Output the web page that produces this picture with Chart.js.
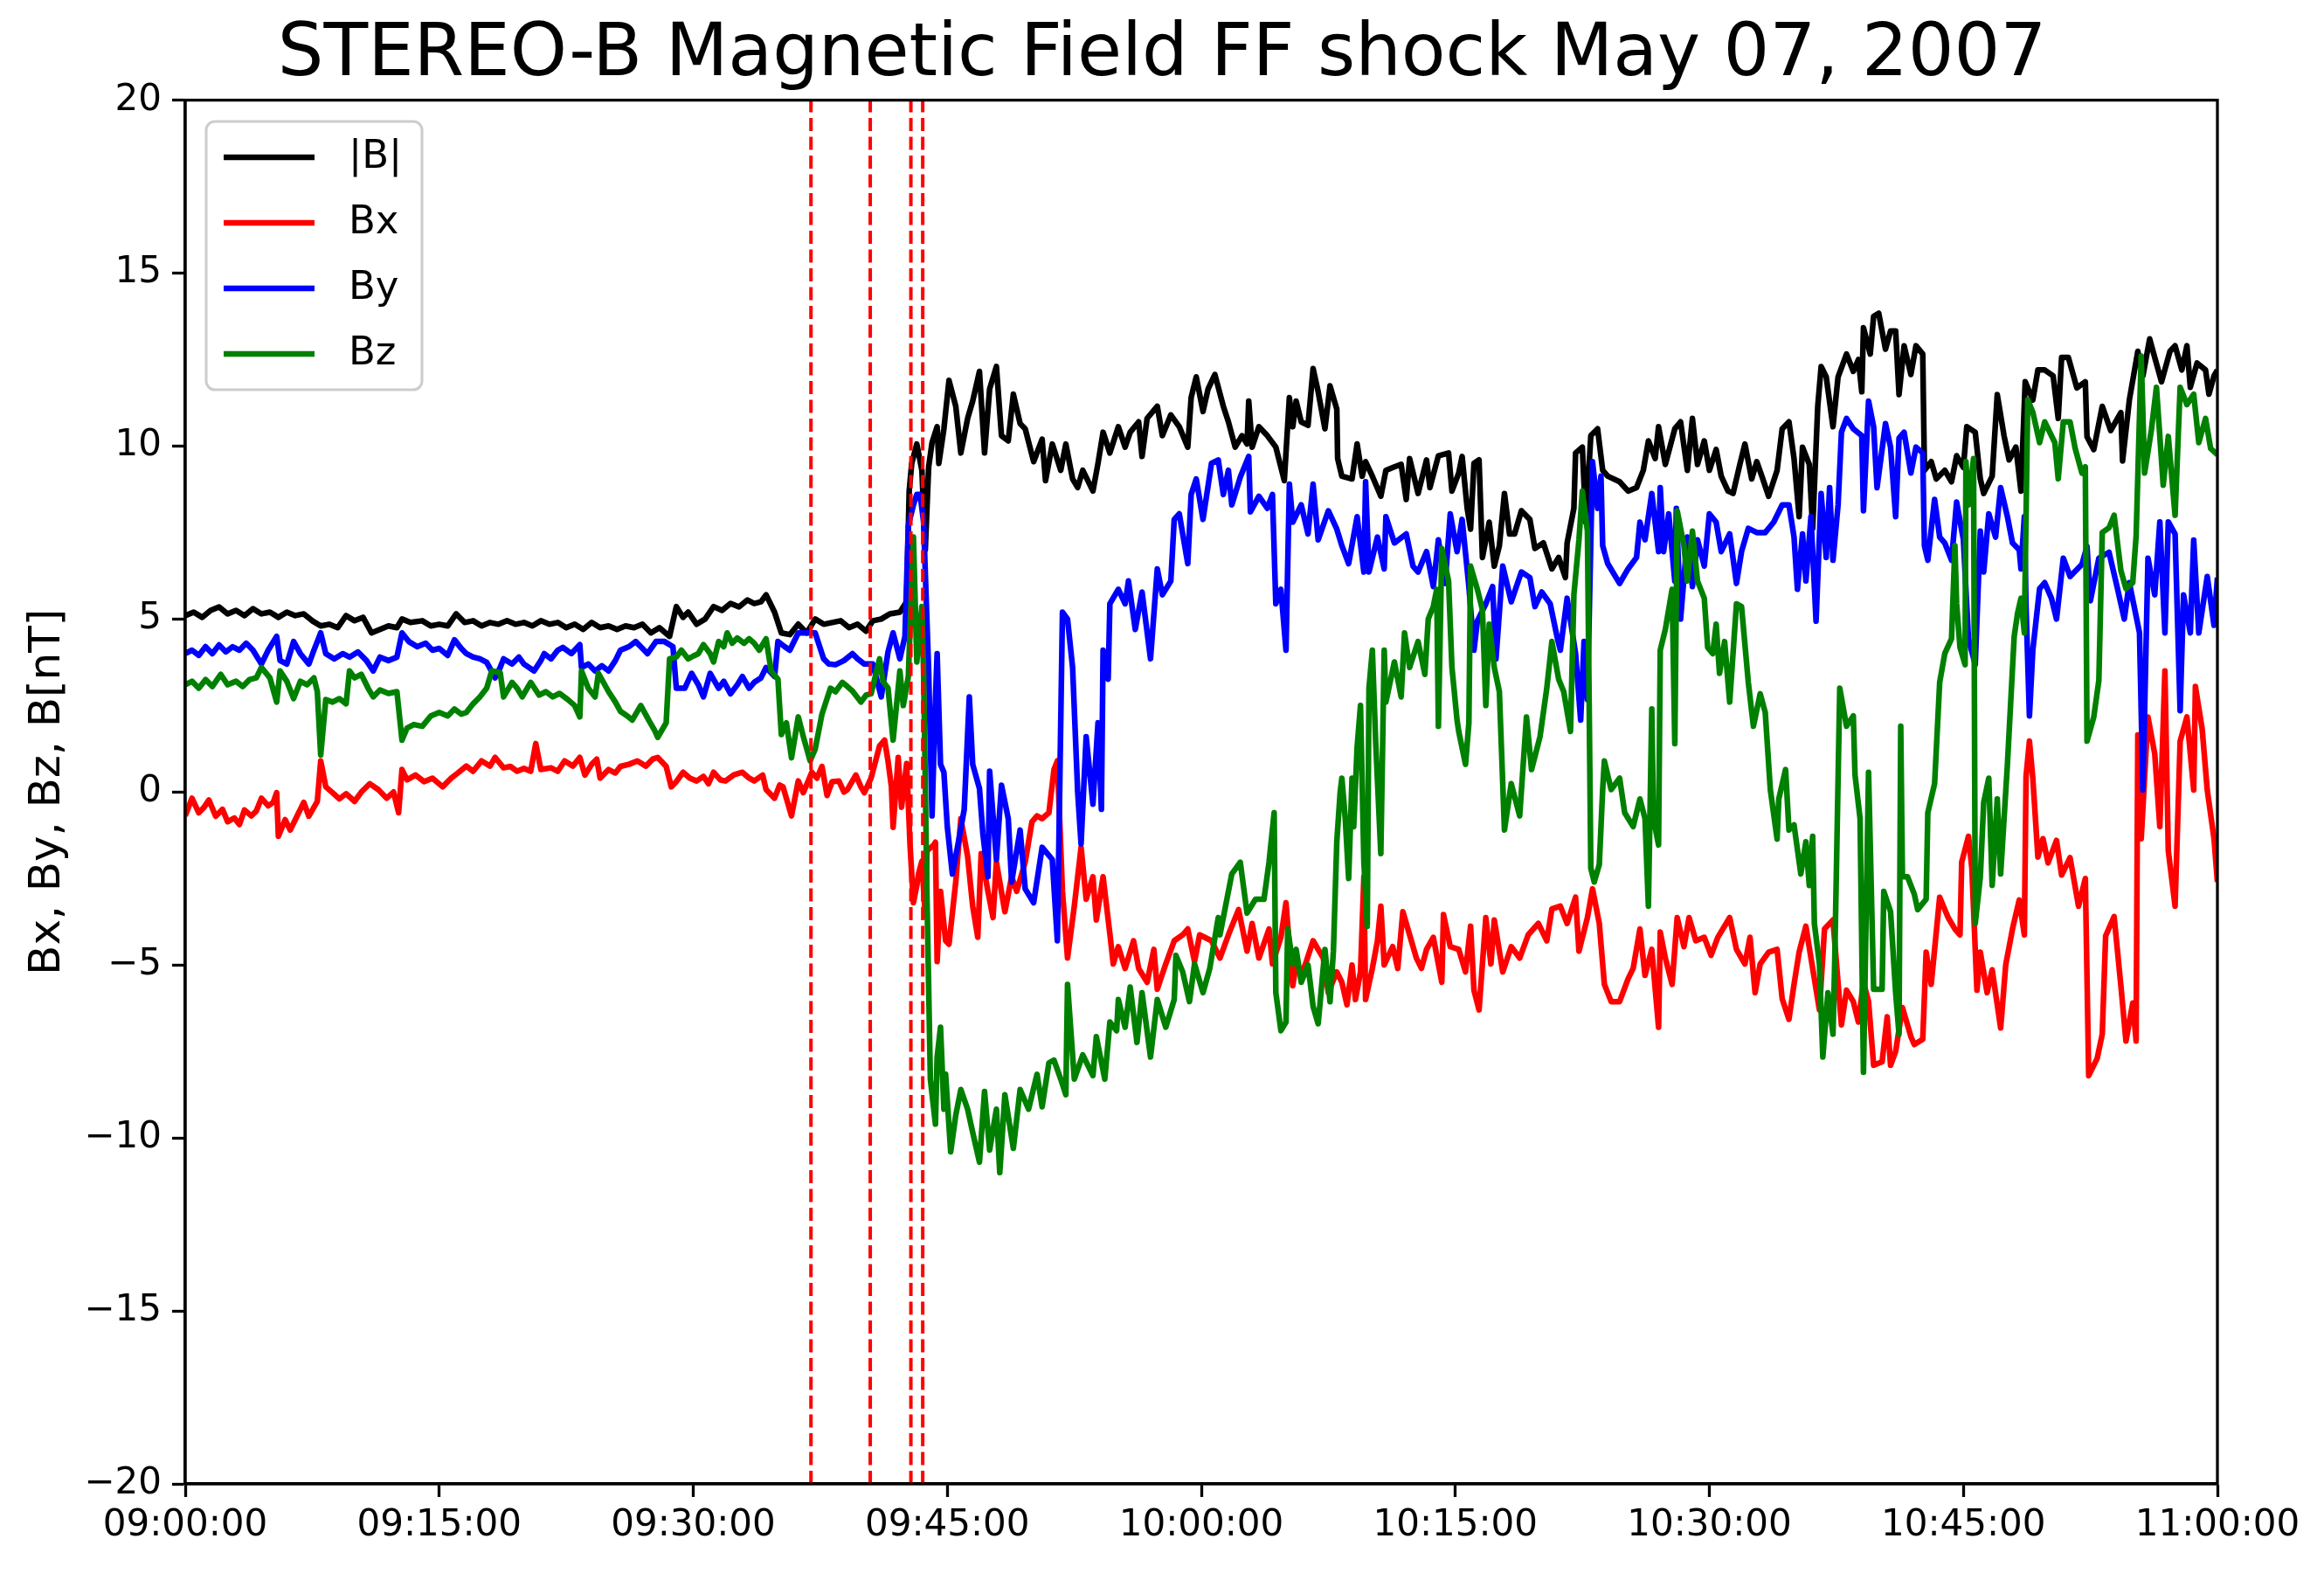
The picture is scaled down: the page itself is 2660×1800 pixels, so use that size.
<!DOCTYPE html>
<html>
<head>
<meta charset="utf-8">
<script src="https://cdn.jsdelivr.net/npm/chart.js@4.4.1/dist/chart.umd.min.js"></script>
<style>
  html, body { margin: 0; padding: 0; background: #ffffff; }
  canvas { display: block; }
</style>
</head>
<body>
<canvas id="magChart" width="2660" height="1800"></canvas>
<script>
// time axis is minutes after 09:00:00
const bTime = [0,0.5,1,1.5,2,2.5,3,3.5,4,4.5,5,5.5,6,6.5,7,7.5,8,8.5,9,9.5,10,10.5,11,11.5,12,12.5,12.8,13.3,14,14.5,15,15.5,16,16.5,17,17.5,18,18.5,19,19.5,20,20.5,21,21.5,22,22.5,23,23.5,24,24.5,25,25.5,26,26.5,27,27.5,28,28.6,29,29.4,29.7,30.2,30.7,31.2,31.7,32.2,32.7,33.2,33.6,34,34.3,34.8,35.2,35.7,36.2,36.7,37.2,37.7,38.2,38.7,39.2,39.7,40.2,40.6,41.1,41.6,42.2,42.6,42.75,42.9,43.2,43.5,43.7,43.9,44.1,44.4,44.5,44.8,45.1,45.5,45.8,46.2,46.5,46.9,47.2,47.5,47.9,48.2,48.6,48.9,49.3,49.6,50.1,50.6,50.8,51.2,51.7,52,52.4,52.7,53,53.6,53.9,54.2,54.6,55.1,55.5,55.8,56.3,56.5,56.8,57.4,57.7,58.2,58.7,59.2,59.4,59.7,60.1,60.4,60.8,61.3,61.6,62,62.4,62.7,62.8,63,63.4,63.9,64.4,64.9,65.2,65.4,65.6,65.9,66.3,66.6,66.9,67.3,67.6,68,68.05,68.3,68.9,69.2,69.5,69.7,70.1,70.6,70.9,71.4,71.8,72.1,72.3,72.8,73.3,73.5,74,74.6,74.8,75.2,75.4,75.7,75.9,76.1,76.4,76.6,77,77.3,77.6,77.9,78.2,78.5,78.9,79.4,79.7,80.2,80.7,81.1,81.5,81.6,82,82.1,82.5,82.7,83,83.4,83.7,84,84.7,85.2,85.7,86.1,86.4,86.8,87,87.4,87.96,88.3,88.7,89,89.3,89.7,90,90.4,90.7,91.1,91.4,91.8,92.1,92.5,92.8,93.1,93.5,94,94.3,94.7,95,95.3,95.5,95.9,96.1,96.4,96.6,96.9,97.3,97.6,98.1,98.5,98.8,99,99.1,99.5,99.7,100,100.4,100.7,101,101.2,101.5,101.9,102.2,102.6,102.7,103.1,103.4,103.9,104.3,104.6,105,105.2,105.7,106,106.2,106.7,107,107.4,107.7,108.1,108.4,108.65,109.1,109.4,109.8,110.3,110.6,110.8,111.2,111.7,112.2,112.3,112.7,113.2,113.7,114.3,114.4,114.8,115.3,115.6,116,116.3,116.7,117.2,117.5,117.9,118.2,118.4,118.8,119.3,119.5,119.8,120];
const bMag = [5.1,5.2,5.05,5.25,5.35,5.15,5.25,5.1,5.3,5.15,5.2,5.05,5.2,5.1,5.15,4.95,4.8,4.85,4.75,5.1,4.95,5.05,4.6,4.7,4.8,4.75,5,4.9,4.95,4.8,4.85,4.8,5.15,4.9,4.95,4.8,4.9,4.85,4.95,4.85,4.9,4.8,4.95,4.85,4.9,4.75,4.85,4.7,4.9,4.75,4.8,4.7,4.8,4.75,4.85,4.6,4.75,4.5,5.36,5.05,5.2,4.85,5,5.36,5.25,5.45,5.35,5.55,5.45,5.5,5.7,5.2,4.6,4.55,4.85,4.6,5,4.85,4.9,4.95,4.75,4.85,4.65,4.95,5,5.15,5.2,5.5,8.7,9.5,10.06,9.3,7,9.4,10.1,10.56,9.5,10.5,11.9,11.15,9.8,10.8,11.3,12.16,9.8,11.65,12.3,10.3,10.15,11.5,10.65,10.5,9.55,10.2,9,10.06,9.3,10.06,9.05,8.8,9.3,8.7,9.5,10.4,9.8,10.56,9.97,10.4,10.7,9.7,10.8,11.15,10.3,10.9,10.56,9.97,11.4,12,11,11.65,12.07,11.15,10.7,9.97,10.3,10.06,11.3,9.97,10.56,10.3,9.97,9,11.4,10.56,11.3,10.7,10.6,12.24,11.57,10.5,11.74,11.07,9.64,9.13,9.05,10.06,9.13,9.55,9.13,8.55,9.3,9.4,9.47,8.46,9.64,8.63,9.6,8.8,9.72,9.8,8.7,9.22,9.7,8.2,7.6,9.5,9.6,6.78,7.8,6.53,7.12,8.63,7.46,7.46,8.13,7.88,7.04,7.2,6.45,6.78,6.2,7.2,8.2,9.8,9.97,7.8,10.3,10.5,9.3,9.13,8.97,8.7,8.8,9.3,10.15,9.64,10.56,9.47,10.5,10.7,9.3,10.8,9.47,10.15,9.3,9.9,9.13,8.7,8.63,9.47,10.06,9.05,9.55,9.13,8.55,9.3,10.5,10.7,9.64,7.96,9.97,9.47,7.62,11.15,12.3,12,10.56,12,12.66,12.16,12.5,11.57,13.42,12.66,13.75,13.84,12.8,13.33,13.33,11.49,12.9,12.07,12.9,12.66,9.3,9.55,9.05,9.3,8.97,9.72,9.38,10.56,10.4,9.05,8.63,9.13,11.49,10.3,9.6,9.97,8.7,11.86,11.33,12.2,12.2,12.03,10.8,12.56,12.56,11.68,11.86,10.27,9.9,11.15,10.45,10.97,9.57,11.33,12.74,12.03,13.1,12.56,11.86,12.74,12.9,12.2,12.9,11.7,12.4,12.2,11.5,12.03,12.2];

const bxTime = [0,0.4,0.8,1.1,1.4,1.8,2.2,2.5,2.9,3.2,3.5,3.9,4.2,4.5,4.9,5.2,5.4,5.5,5.9,6.2,6.6,7,7.3,7.8,8,8.3,8.7,9.1,9.5,10,10.4,10.9,11.4,11.9,12.3,12.6,12.8,13.1,13.6,14.1,14.6,15.2,15.7,16.1,16.6,17,17.5,18,18.3,18.8,19.2,19.6,20,20.4,20.7,21,21.6,22,22.4,22.9,23.3,23.6,24,24.3,24.5,25,25.4,25.7,26.2,26.7,27.2,27.6,27.9,28.4,28.7,29,29.4,29.8,30.2,30.6,30.9,31.2,31.6,31.9,32.4,32.9,33.3,33.6,34.1,34.3,34.8,35.1,35.3,35.8,36.2,36.5,37,37.3,37.6,37.9,38.2,38.6,38.9,39.1,39.6,39.9,40.1,40.5,41,41.3,41.5,41.7,41.8,42.1,42.3,42.6,42.8,43,43.2,43.3,43.5,43.7,43.8,44.2,44.3,44.4,44.6,44.9,45.1,45.5,45.8,46.2,46.5,46.8,47,47.4,47.7,47.9,48.4,48.8,49.1,49.6,50,50.3,50.6,51,51.3,51.5,51.8,52.1,52.5,52.9,53.2,53.6,53.8,54.2,54.6,54.8,55.1,55.5,56,56.3,56.8,57.2,57.4,57.9,58.4,58.9,59.2,59.6,59.9,60.6,61.1,61.6,62.2,62.7,63,63.4,64,64.2,64.7,65,65.2,65.4,65.6,65.9,66.2,66.6,67.2,67.5,68,68.3,68.6,68.9,69.1,69.4,69.6,69.7,70.1,70.4,70.6,70.8,71.3,71.6,71.9,72.3,72.7,73,73.3,73.7,74.2,74.3,74.7,75.2,75.6,75.9,76.1,76.4,76.8,77.1,77.3,77.8,78.3,78.8,79.3,79.9,80.4,80.7,81.2,81.6,82.1,82.3,82.8,83.1,83.5,83.8,84.2,84.7,85.2,85.5,85.9,86.2,86.6,87,87.1,87.4,87.8,88.1,88.5,88.8,89.2,89.7,90.1,90.5,91.2,91.6,92.1,92.4,92.7,93,93.5,94,94.3,94.7,95,95.3,95.7,96,96.5,96.8,97.3,97.8,98.1,98.5,98.8,99.1,99.4,99.7,100.2,100.5,100.7,101,101.4,101.9,102.1,102.6,102.8,103.1,103.6,104.1,104.5,104.8,104.9,105.3,105.5,105.8,106,106.4,106.7,107.2,107.5,107.9,108.3,108.6,108.7,108.9,109.1,109.4,109.7,110,110.5,110.8,111.3,111.8,112.2,112.4,112.9,113.2,113.4,113.9,114.3,114.6,115,115.2,115.3,115.5,115.9,116.3,116.6,116.9,117.1,117.5,117.8,118.2,118.6,118.7,119.1,119.4,119.8,120];
const bxVal = [-0.69,-0.18,-0.6,-0.45,-0.23,-0.7,-0.5,-0.86,-0.75,-0.94,-0.52,-0.69,-0.55,-0.18,-0.4,-0.3,-0.02,-1.28,-0.8,-1.1,-0.7,-0.3,-0.7,-0.27,0.9,0.15,-0.02,-0.2,-0.05,-0.27,0,0.24,0.07,-0.18,0,-0.6,0.65,0.35,0.49,0.3,0.4,0.15,0.4,0.55,0.75,0.6,0.9,0.75,1,0.7,0.74,0.6,0.68,0.6,1.4,0.65,0.7,0.6,0.9,0.75,1,0.49,0.8,0.95,0.4,0.65,0.55,0.74,0.8,0.9,0.75,0.95,1,0.74,0.15,0.3,0.57,0.4,0.32,0.45,0.24,0.57,0.35,0.32,0.5,0.57,0.4,0.32,0.49,0.07,-0.18,0.2,0.15,-0.69,0.32,-0.02,0.57,0.4,0.74,-0.1,0.3,0.32,0,0.07,0.49,0.15,-0.02,0.4,1.33,1.5,0.9,0.15,-1.02,1,-0.44,0.82,-1.53,-3.2,-2.7,-2.37,-2,-3.6,-1.7,-1.53,-1.45,-4.9,-2.87,-4.3,-4.4,-2.6,-0.77,-1.86,-3.3,-4.2,-1.78,-2.87,-3.63,-2.03,-3.46,-2.45,-2.87,-2.03,-0.86,-0.69,-0.77,-0.6,0.65,0.9,-2.87,-4.8,-3.3,-1.6,-3.1,-2.45,-3.7,-2.45,-4.1,-4.97,-4.47,-5.1,-4.3,-5.1,-5.5,-4.55,-5.7,-4.97,-4.3,-4.13,-3.96,-4.9,-4.13,-4.3,-4.8,-4.13,-3.4,-4.6,-3.8,-4.8,-3.96,-4.97,-4.2,-3.2,-4.47,-5.6,-4.97,-5.3,-4.9,-4.3,-4.8,-5.8,-5.2,-5.5,-6.15,-5,-6,-5.2,-2.45,-6,-5.1,-4.3,-3.3,-5,-4.47,-5.1,-3.46,-4.13,-4.8,-5.1,-4.55,-4.2,-5.5,-3.54,-4.47,-4.55,-5.2,-3.88,-5.73,-6.3,-3.63,-4.97,-3.7,-5.2,-4.47,-4.8,-4.13,-3.8,-4.3,-3.38,-3.3,-3.8,-3.04,-4.6,-3.63,-2.8,-3.8,-5.56,-6.06,-6.06,-5.4,-5.1,-3.96,-5.3,-4.55,-6.8,-4.05,-4.8,-5.56,-3.63,-4.47,-3.63,-4.3,-4.2,-4.72,-4.2,-3.63,-4.55,-4.97,-4.2,-5.8,-4.97,-4.63,-4.55,-5.98,-6.57,-5.56,-4.63,-3.88,-4.8,-6.3,-3.96,-3.7,-6.73,-5.73,-6.06,-6.65,-5.5,-6.06,-7.9,-7.8,-6.5,-7.9,-7.5,-6.23,-7.07,-7.3,-7.15,-4.63,-5.56,-3.04,-3.63,-3.96,-4.13,-2.03,-1.28,-2.2,-5.73,-4.63,-5.8,-5.14,-6.82,-5,-3.96,-3.12,-4.13,0.44,1.47,0.4,-1.88,-1.35,-2.05,-1.4,-2.4,-1.9,-3.3,-2.5,-8.2,-7.7,-7,-4.16,-3.6,-5.6,-7.2,-6.1,-7.2,1.65,-1.35,2.17,1.1,-1,3.5,-1.7,-3.3,1.47,2.17,0.06,3.05,1.82,0.06,-1.35,-2.6];

const byTime = [0,0.4,0.8,1.2,1.6,2,2.4,2.8,3.2,3.6,4,4.5,4.9,5.4,5.6,6,6.4,6.8,7.3,7.6,8,8.3,8.8,9.3,9.7,10.2,10.7,11.1,11.5,12,12.5,12.8,13.2,13.7,14.2,14.6,15,15.5,15.9,16.3,16.6,17,17.4,17.8,18.3,18.6,18.8,19.3,19.7,20,20.6,21,21.2,21.6,22,22.3,22.8,23.3,23.4,23.8,24.2,24.6,25,25.4,25.7,26.2,26.6,27,27.3,27.8,28.3,28.8,29,29.5,29.9,30.3,30.6,31,31.5,31.8,32.2,32.6,32.9,33.3,33.6,34,34.3,34.8,35,35.4,35.7,36.2,36.7,37.2,37.7,38,38.4,38.9,39.4,39.7,40.1,40.6,41.1,41.5,41.8,42.2,42.5,42.7,43,43.2,43.4,43.6,43.9,44.1,44.3,44.4,44.6,44.8,45,45.3,45.6,46,46.3,46.5,46.9,47.1,47.4,47.5,47.9,48.2,48.6,48.8,49.3,49.6,50.1,50.6,51.2,51.5,51.8,52.1,52.4,52.7,52.9,53.2,53.6,53.9,54.1,54.2,54.5,54.6,55.1,55.5,55.7,56.1,56.5,57,57.4,57.7,58.2,58.4,58.7,59.2,59.4,59.7,60.1,60.6,61,61.3,61.6,61.8,62.3,62.8,62.9,63.4,63.9,64.2,64.4,64.7,65,65.2,65.4,65.9,66.3,66.6,66.9,67.5,68,68.3,68.7,69.2,69.6,69.7,69.9,70.4,70.8,70.9,71.4,72.1,72.5,72.8,73.3,73.7,74,74.4,74.7,75.1,75.4,75.8,76.1,76.3,76.8,77.2,77.4,77.8,78.3,78.9,79.4,79.7,80.1,80.6,81,81.2,81.6,82.1,82.4,82.6,82.8,83.1,83.4,83.6,83.7,84,84.7,85.2,85.7,85.9,86.2,86.6,87,87.1,87.3,87.6,87.96,88.05,88.3,88.7,89,89.3,89.7,90,90.4,90.7,91.2,91.6,91.9,92.3,92.8,93.3,93.8,94.3,94.7,95,95.2,95.5,95.7,96,96.3,96.6,96.9,97.1,97.3,97.6,97.8,98.1,98.5,99,99.1,99.4,99.7,99.9,100.4,100.7,101,101.2,101.5,101.9,102.2,102.6,102.7,102.9,103.3,103.6,103.9,104.3,104.6,105,105.3,105.7,106,106.2,106.5,106.9,107.2,107.6,107.9,108.3,108.4,108.6,108.7,108.9,109.1,109.5,109.8,110.2,110.5,110.9,111.3,112,112.3,112.5,113,113.6,114.1,114.5,114.8,115.4,115.6,115.9,116.3,116.6,116.9,117.1,117.5,117.8,118,118.4,118.6,118.9,119.4,119.8,120];
const byVal = [4,4.1,3.95,4.2,4,4.25,4.05,4.2,4.1,4.3,4.1,3.7,4.1,4.5,3.8,3.7,4.35,4,3.7,4.1,4.6,4,3.85,4,3.9,4.05,3.8,3.5,3.9,3.8,3.9,4.6,4.35,4.2,4.3,4.1,4.15,3.95,4.4,4.15,4,3.9,3.85,3.75,3.3,3.6,3.85,3.7,3.9,3.7,3.5,3.8,4,3.85,4.1,4.18,4,4.26,3.6,3.7,3.5,3.65,3.5,3.8,4.1,4.2,4.35,4.15,4,4.35,4.35,4.2,3,3,3.43,3.1,2.75,3.43,3,3.2,2.84,3.1,3.34,3,3.17,3.3,3.6,3.34,4.35,4.2,4.1,4.6,4.6,4.6,3.85,3.7,3.68,3.8,4,3.85,3.7,3.7,2.75,4.05,4.6,3.85,4.5,7.7,8.3,8.6,8.6,7.8,3.5,-0.69,2.67,4,0.8,0.57,-1,-2.37,-1.6,-0.5,2.75,0.8,0.1,-1.2,-2.45,0.6,-1.95,0.2,-0.77,-2.6,-1.1,-2.8,-3.2,-1.6,-1.95,-4.3,5.2,5,3.6,0,-1.5,1.6,-0.35,2,-0.5,4.1,3.26,5.44,5.86,5.44,6.1,4.7,5.78,3.85,6.45,5.7,6.1,7.88,8.04,6.6,8.6,9.05,7.88,9.5,9.6,8.6,9.3,8.3,9.1,9.7,8.1,8.55,8.2,8.6,5.44,5.86,4.1,8.9,7.8,8.3,7.46,8.9,7.29,8.13,7.6,7.12,6.6,7.96,6.36,8.97,6.36,7.37,6.45,7.96,7.2,7.46,6.53,6.36,6.95,5.94,7.29,6.03,8.04,6.95,7.88,5.94,4.1,4.94,5.44,5.94,3.85,6.53,5.5,6.36,6.2,5.36,5.78,5.44,4.5,4.1,5.6,4,2.08,4.35,2.67,9.55,8.2,9.13,7.12,6.6,6.03,6.45,6.78,7.8,7.29,8.63,6.95,8.8,6.95,8.04,6.1,8.2,5,7.37,5.94,7.29,6.53,8.04,7.8,6.95,7.46,6.03,6.95,7.62,7.5,7.5,7.8,8.3,8.3,7.37,5.86,7.46,6.1,7.96,4.94,8.63,6.78,8.8,6.7,8.3,10.4,10.8,10.5,10.3,8.13,11.3,10.56,8.8,10.65,9.97,7.96,10.23,10.4,9.22,9.97,9.8,7.12,6.7,8.46,7.37,7.2,6.7,8.38,7.3,4.43,3.68,7.54,6.36,8.04,7.37,8.8,7.96,7.2,7,6.45,7.96,5.35,2.2,4.1,5.88,6.05,5.6,5,6.76,6.23,6.58,7.1,5.53,6.76,6.93,5.88,5,6.05,4.6,0.06,6.76,5.7,7.81,4.6,7.81,7.46,2.35,5.7,4.6,7.28,4.6,6.23,4.82,6.2];

const bzTime = [0,0.4,0.8,1.2,1.6,2.1,2.5,3,3.4,3.8,4.2,4.5,5,5.4,5.6,6,6.4,6.8,7.2,7.6,7.8,8,8.3,8.7,9.1,9.5,9.7,10,10.4,10.8,11.1,11.5,12,12.5,12.8,13.1,13.5,14,14.5,15,15.5,15.9,16.3,16.6,17,17.4,17.8,18.1,18.6,18.8,19.3,19.6,19.9,20.4,20.9,21.3,21.7,22.1,22.6,23,23.3,23.4,23.8,24.2,24.4,25,25.4,25.7,26.1,26.4,26.9,27.4,27.7,27.9,28.4,28.6,29,29.3,29.7,30,30.3,30.6,31,31.2,31.5,31.8,32,32.3,32.6,33,33.3,33.6,33.9,34.3,34.6,35,35.2,35.5,35.8,36.2,36.5,36.9,37.2,37.6,38.1,38.4,38.8,39.1,39.4,39.9,40.2,40.5,41,41.2,41.5,41.8,42.2,42.4,42.7,43,43.2,43.5,43.6,43.8,44,44.3,44.4,44.6,44.8,44.9,45.2,45.5,45.8,46.2,46.5,46.9,47.2,47.5,47.9,48.1,48.4,48.9,49.3,49.8,50.3,50.6,51,51.3,51.7,52,52.1,52.5,53,53.6,53.8,54.3,54.6,55,55.1,55.5,55.8,56.2,56.5,57,57.4,57.9,58.4,58.5,58.9,59.3,59.6,60.1,60.5,61,61.1,61.8,62.3,62.7,63.2,63.7,64,64.3,64.4,64.7,65,65.1,65.4,65.6,65.9,66.3,66.6,66.9,67.3,67.6,67.8,68,68.2,68.3,68.5,68.7,68.9,69,69.2,69.4,69.6,69.8,69.9,70.1,70.3,70.6,70.8,70.9,71.4,71.8,72,72.3,72.8,73.2,73.4,73.7,73.9,74,74.2,74.6,74.8,75.1,75.2,75.6,75.8,75.9,76.3,76.6,76.8,77,77.3,77.6,77.9,78.3,78.8,79.2,79.5,80,80.4,80.7,81.1,81.4,81.8,82,82.3,82.5,82.8,83,83.2,83.5,83.7,83.8,84.2,84.7,85,85.5,85.9,86.2,86.4,86.6,86.7,87,87.1,87.4,87.8,87.96,88.1,88.5,88.7,89,89.3,89.7,89.9,90.2,90.4,90.6,90.9,91.2,91.6,91.9,92.3,92.6,93,93.3,93.6,94,94.1,94.5,94.7,95,95.4,95.7,95.9,96.1,96.2,96.5,96.7,97,97.3,97.4,97.7,98.1,98.5,98.6,98.9,99.1,99.4,99.7,100.2,100.3,100.7,101,101.2,101.3,101.4,101.7,102.1,102.3,102.8,102.9,103.3,103.6,103.9,104.3,104.5,104.6,104.8,105.1,105.15,105.3,105.6,105.7,106,106.2,106.5,106.7,107,107.2,107.6,108,108.2,108.4,108.6,108.8,109.1,109.5,109.8,110.4,110.6,110.9,111.3,111.6,112,112.2,112.3,112.7,113,113.2,113.6,113.9,114.3,114.6,115,115.2,115.5,115.7,116.1,116.4,116.8,117.1,117.5,117.8,118.2,118.6,118.9,119.3,119.6,120];
const bzVal = [3.1,3.2,3,3.25,3.05,3.4,3.1,3.2,3.05,3.25,3.3,3.6,3.3,2.6,3.5,3.2,2.7,3.2,3.1,3.3,2.9,1.07,2.67,2.6,2.7,2.55,3.5,3.3,3.4,3,2.75,2.95,2.85,2.9,1.5,1.85,1.95,1.9,2.2,2.3,2.2,2.4,2.25,2.3,2.55,2.75,3,3.5,3.45,2.75,3.17,3,2.75,3.17,2.8,2.9,2.75,2.85,2.67,2.5,2.17,3.5,3,2.75,3.43,2.9,2.6,2.33,2.2,2.08,2.5,2.05,1.8,1.58,2,3.85,3.9,4.1,3.85,3.93,4,4.26,4,3.76,4.35,4.2,4.6,4.3,4.45,4.3,4.43,4.3,4.1,4.43,3.5,3.26,1.66,2,0.99,2.17,1.6,0.9,1.24,2.25,3,2.9,3.17,3.05,2.92,2.6,2.8,2.84,3.85,3.2,3,1.5,3.5,2.5,3.34,7.37,3.76,5.36,3.5,-3,-8.3,-9.6,-7.66,-6.8,-9.17,-8.16,-10.4,-9.34,-8.6,-9.17,-9.84,-10.7,-8.66,-10.35,-9.17,-11,-8.75,-10.3,-8.6,-9.17,-8.16,-9.1,-7.83,-7.75,-8.3,-8.75,-5.56,-8.3,-7.6,-8.2,-7.07,-8.3,-6.65,-6.9,-6,-6.8,-5.64,-7.24,-5.8,-7.66,-6,-6.8,-6,-4.72,-5.2,-6.06,-4.97,-5.8,-5.1,-3.63,-4.13,-2.37,-2.03,-3.5,-3.1,-3.1,-2.03,-0.6,-5.8,-6.9,-6.65,-3.96,-4.97,-4.55,-5.5,-5,-6.2,-6.7,-4.55,-6.06,-4.6,-1.44,0,0.4,-0.77,-2.5,0.4,-1,1.3,2.5,-2.03,-3.88,3,4.1,1.4,-1.78,4.1,2.6,3.76,2.75,4.6,3.6,4.35,3.4,5,5.36,5.86,1.9,7.04,6.1,3.6,2.08,1.75,0.8,2,6.53,5.86,5.27,2.5,4.85,3.6,2.9,-1.1,0.24,-0.69,2.17,0.65,1.6,3,4.35,3.26,2.9,1.75,5.7,7.29,8.7,7.54,-2.2,-2.6,-2.1,0.07,0.9,0.07,0.4,-0.6,-1,-0.2,-0.77,-3.3,2.4,-0.77,-1.53,4.1,4.7,5.86,1.4,8.13,7.12,6.1,7.54,6.1,5.6,4.18,4,4.85,3.43,4.35,2.6,5.44,5.36,3.17,1.9,2.84,2.3,0.07,-1.36,-0.2,0.65,-1.1,-0.95,-2.37,-1.44,-2.7,-1.28,-3.8,-4.97,-7.66,-5.8,-7,-4.97,3,1.9,2.2,0.5,-0.77,-8.1,0.57,-5.7,-5.7,-2.87,-3.46,-5.8,-7,1.9,-2.45,-2.45,-2.95,-3.4,-3.1,-0.6,0.24,3.17,4,4.43,7.12,5.44,4.18,3.68,9.55,8.3,9.64,-3.8,-2.45,-0.3,0.4,-2.7,-0.2,-2.37,0.8,4.5,5.17,5.6,4.6,11.34,10.98,10.1,10.7,10.1,9.05,10.7,10.7,9.93,9.22,9.4,1.47,2.17,3.23,7.5,7.64,8,6.4,5.88,6.05,7.4,12.6,9.22,10.46,11.7,8.87,10.28,8,11.7,11.2,11.5,10.1,10.8,9.93,9.75];

// candidate shock / discontinuity markers (minutes after 09:00)
const shockTimes = [36.95, 40.45, 42.85, 43.55];

const seriesLabels = ['|B|', 'Bx', 'By', 'Bz'];
const seriesColors = ['#000000', '#ff0000', '#0000ff', '#008000'];

const FONT = '"DejaVu Sans", "Liberation Sans", sans-serif';
const LINE_W = 6.5;

const pts = (ts, vs) => ts.map((t, i) => ({ x: t, y: vs[i] }));

const fmtTime = (m) => {
    const h = 9 + Math.floor(m / 60);
    const mm = Math.round(m % 60);
    return String(h).padStart(2, '0') + ':' + String(mm).padStart(2, '0') + ':00';
};

const fmtY = (v) => (v < 0 ? '\u2212' + Math.abs(v) : String(v));

const lineSet = (i, ts, vs, order) => ({
    label: seriesLabels[i],
    data: pts(ts, vs),
    borderColor: seriesColors[i],
    backgroundColor: seriesColors[i],
    borderWidth: LINE_W,
    borderJoinStyle: 'round',
    pointRadius: 0,
    tension: 0,
    order: order
});

const datasets = [
    lineSet(0, bTime, bMag, 4),
    lineSet(1, bxTime, bxVal, 3),
    lineSet(2, byTime, byVal, 2),
    lineSet(3, bzTime, bzVal, 1)
];

shockTimes.forEach(t => {
    datasets.push({
        label: 'shock',
        data: [{ x: t, y: -20 }, { x: t, y: 20 }],
        borderColor: '#ff0000',
        borderWidth: 4,
        borderDash: [15, 6.5],
        pointRadius: 0,
        order: 0
    });
});

// box around the plot (top and right spines)
const frame = {
    id: 'frame',
    afterDatasetsDraw(chart) {
        const { ctx, chartArea: a } = chart;
        ctx.save();
        ctx.strokeStyle = '#000000';
        ctx.lineWidth = 3.3;
        ctx.strokeRect(a.left, a.top, a.right - a.left, a.bottom - a.top);
        ctx.restore();
    }
};

// legend drawn inside the axes, upper left like matplotlib
const boxLegend = {
    id: 'boxLegend',
    afterDraw(chart) {
        const { ctx } = chart;
        const x = 236, y = 139, w = 247, h = 307, r = 10;
        ctx.save();
        ctx.beginPath();
        ctx.roundRect(x, y, w, h, r);
        ctx.fillStyle = 'rgba(255,255,255,0.8)';
        ctx.fill();
        ctx.strokeStyle = '#cccccc';
        ctx.lineWidth = 3;
        ctx.stroke();
        ctx.font = '45px ' + FONT;
        ctx.textBaseline = 'middle';
        ctx.textAlign = 'left';
        chart.data.datasets.slice(0, 4).forEach((ds, i) => {
            const rowY = 180 + i * 75;
            ctx.beginPath();
            ctx.moveTo(256, rowY);
            ctx.lineTo(360, rowY);
            ctx.strokeStyle = ds.borderColor;
            ctx.lineWidth = LINE_W;
            ctx.stroke();
            ctx.fillStyle = '#000000';
            ctx.fillText(ds.label, 399, rowY);
        });
        ctx.restore();
    }
};

new Chart(document.getElementById('magChart'), {
    type: 'line',
    data: { datasets: datasets },
    plugins: [frame, boxLegend],
    options: {
        responsive: false,
        animation: false,
        devicePixelRatio: 1,
        layout: { padding: 0 },
        plugins: {
            legend: { display: false },
            tooltip: { enabled: false },
            title: {
                display: true,
                text: 'STEREO-B Magnetic Field FF shock May 07, 2007',
                color: '#000000',
                font: { family: FONT, size: 83, weight: 'normal' },
                padding: { top: 15, bottom: 0 }
            }
        },
        scales: {
            x: {
                type: 'linear',
                min: 0,
                max: 120,
                grid: { display: true, drawOnChartArea: false, drawTicks: true, tickLength: 15, tickWidth: 3.3, tickColor: '#000000' },
                border: { display: true, color: '#000000', width: 3.3 },
                ticks: {
                    stepSize: 15,
                    padding: 8,
                    maxRotation: 0,
                    color: '#000000',
                    font: { family: FONT, size: 42 },
                    callback: (v) => fmtTime(v)
                },
                afterFit: (s) => { s.height = 102; }
            },
            y: {
                type: 'linear',
                min: -20,
                max: 20,
                grid: { display: true, drawOnChartArea: false, drawTicks: true, tickLength: 15, tickWidth: 3.3, tickColor: '#000000' },
                border: { display: true, color: '#000000', width: 3.3 },
                ticks: {
                    stepSize: 5,
                    padding: 12,
                    color: '#000000',
                    font: { family: FONT, size: 42 },
                    callback: (v) => fmtY(v)
                },
                title: {
                    display: true,
                    text: 'Bx, By, Bz, B[nT]',
                    color: '#000000',
                    font: { family: FONT, size: 50 },
                    padding: { top: 25, bottom: 0 }
                },
                afterFit: (s) => { s.width = 212; }
            },
            // empty right-hand box so the plot ends where the reference does
            yRight: {
                type: 'linear',
                position: 'right',
                display: true,
                grid: { display: false },
                border: { display: false },
                ticks: { display: false },
                afterFit: (s) => { s.width = 122; }
            }
        }
    }
});
</script>
</body>
</html>
